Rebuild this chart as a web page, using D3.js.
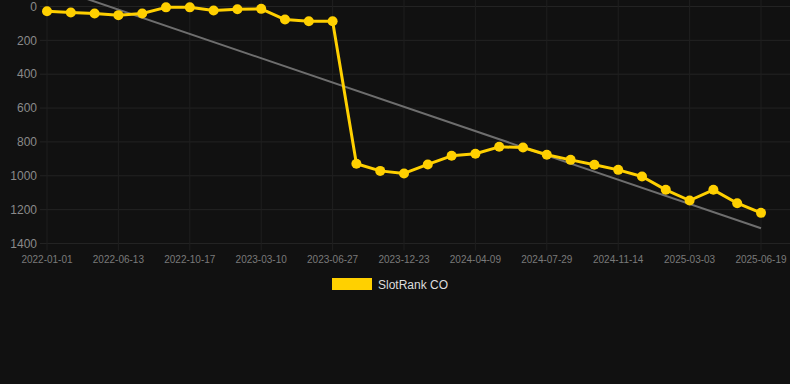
<!DOCTYPE html>
<html>
<head>
<meta charset="utf-8">
<style>
  html, body { margin: 0; padding: 0; background: #111111; }
  svg { display: block; }
  text { font-family: "Liberation Sans", Arial, sans-serif; }
</style>
<script src="https://d3js.org/d3.v7.min.js"></script>
</head>
<body>
<script>

    // data
    var dates = ["2022-01-01","2022-02-24","2022-04-19","2022-06-13","2022-07-25","2022-09-05",
                 "2022-10-17","2022-12-05","2023-01-22","2023-03-10","2023-04-15","2023-05-21",
                 "2023-06-27","2023-08-26","2023-10-25","2023-12-23","2024-01-28","2024-03-04",
                 "2024-04-09","2024-05-16","2024-06-22","2024-07-29","2024-09-03","2024-10-09",
                 "2024-11-14","2024-12-20","2025-01-25","2025-03-03","2025-04-08","2025-05-14",
                 "2025-06-19"];
    var ranks = [28, 35, 41, 51, 41, 5, 5, 24, 16, 14, 77, 87,
                 87, 929, 971, 986, 933, 882, 870, 829, 833, 876,
                 906, 935, 965, 1004, 1083, 1146, 1083, 1162, 1219];
    var yTicks = [0, 200, 400, 600, 800, 1000, 1200, 1400];
    var trendEnds = [-125, 1310];   // trend line value at first and last date
    var seriesName = "SlotRank CO";

    var width = 790, height = 384;
    var plotLeft = 47, plotRight = 790, plotTop = 6.5, plotBottom = 243.5;

    var svg = d3.select("body").append("svg")
        .attr("width", width)
        .attr("height", height);

    var x = d3.scalePoint().domain(dates).range([plotLeft, 761]);
    var y = d3.scaleLinear().domain([0, 1400]).range([plotTop, plotBottom]);

    // grid
    svg.append("g").selectAll("line")
      .data(yTicks)
      .enter().append("line")
      .attr("x1", plotLeft - 7).attr("x2", plotRight)
      .attr("y1", function(d) { return y(d); })
      .attr("y2", function(d) { return y(d); })
      .attr("stroke", "#232323").attr("stroke-width", 1);

    var shown = dates.filter(function(d, i) { return i % 3 == 0; });

    svg.append("g").selectAll("line")
      .data(shown)
      .enter().append("line")
      .attr("x1", function(d) { return x(d); })
      .attr("x2", function(d) { return x(d); })
      .attr("y1", 0).attr("y2", plotBottom + 7)
      .attr("stroke", "#1f1f1f").attr("stroke-width", 1);

    // axis labels
    svg.append("g").selectAll("text")
      .data(yTicks)
      .enter().append("text")
      .attr("x", 37)
      .attr("y", function(d) { return y(d); })
      .attr("dy", "0.35em")
      .attr("text-anchor", "end")
      .attr("fill", "#8a8a8a")
      .style("font-size", "12px")
      .text(function(d) { return d; });

    svg.append("g").selectAll("text")
      .data(shown)
      .enter().append("text")
      .attr("x", function(d) { return x(d); })
      .attr("y", 259)
      .attr("dy", "0.35em")
      .attr("text-anchor", "middle")
      .attr("fill", "#7a7a7a")
      .style("font-size", "10px")
      .text(function(d) { return d; });

    // trend line
    svg.append("line")
      .attr("x1", x(dates[0])).attr("y1", y(trendEnds[0]))
      .attr("x2", x(dates[dates.length - 1])).attr("y2", y(trendEnds[1]))
      .attr("stroke", "#6e6e6e").attr("stroke-width", 2);

    // series
    var line = d3.line()
      .x(function(d, i) { return x(dates[i]); })
      .y(function(d) { return y(d); });

    svg.append("path")
      .datum(ranks)
      .attr("d", line)
      .attr("fill", "none")
      .attr("stroke", "#ffd000")
      .attr("stroke-width", 3)
      .attr("stroke-linejoin", "round");

    svg.append("g").selectAll("circle")
      .data(ranks)
      .enter().append("circle")
      .attr("cx", function(d, i) { return x(dates[i]); })
      .attr("cy", function(d) { return y(d); })
      .attr("r", 5)
      .attr("fill", "#ffd000");

    // legend
    svg.append("rect")
      .attr("x", 332).attr("y", 278)
      .attr("width", 40).attr("height", 12)
      .attr("fill", "#ffd000");

    svg.append("text")
      .attr("x", 378).attr("y", 284.5)
      .attr("dy", "0.35em")
      .attr("fill", "#dddddd")
      .style("font-size", "12px")
      .text(seriesName);

</script>
</body>
</html>
